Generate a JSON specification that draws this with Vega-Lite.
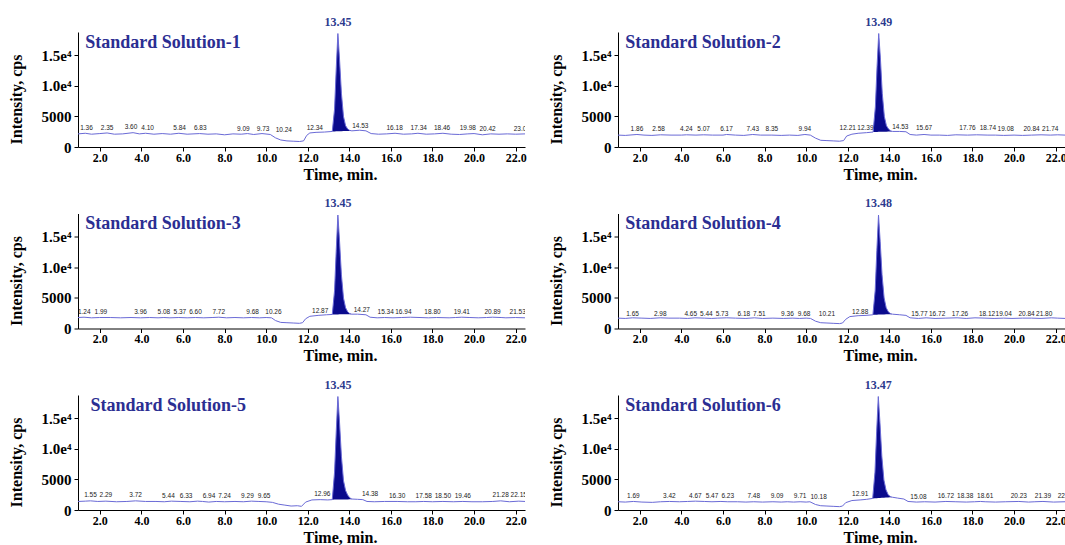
{
"$schema": "https://vega.github.io/schema/vega-lite/v6.json",
"background": "white",
"padding": {"left": 8, "top": 15, "right": 0, "bottom": 0},
"data": {"values": [
{"s":"1","k":"tr","t":0.95,"y":2150},{"s":"1","k":"tr","t":1.3,"y":2250},{"s":"1","k":"tr","t":1.6,"y":2100},{"s":"1","k":"tr","t":2.0,"y":2200},{"s":"1","k":"tr","t":2.35,"y":2300},{"s":"1","k":"tr","t":2.7,"y":2100},{"s":"1","k":"tr","t":3.1,"y":2150},{"s":"1","k":"tr","t":3.6,"y":2350},{"s":"1","k":"tr","t":3.9,"y":2150},{"s":"1","k":"tr","t":4.2,"y":2250},{"s":"1","k":"tr","t":4.6,"y":2100},{"s":"1","k":"tr","t":5.0,"y":2200},{"s":"1","k":"tr","t":5.4,"y":2100},{"s":"1","k":"tr","t":5.8,"y":2250},{"s":"1","k":"tr","t":6.2,"y":2100},{"s":"1","k":"tr","t":6.8,"y":2200},{"s":"1","k":"tr","t":7.2,"y":2100},{"s":"1","k":"tr","t":7.6,"y":2150},{"s":"1","k":"tr","t":8.0,"y":2000},{"s":"1","k":"tr","t":8.4,"y":2150},{"s":"1","k":"tr","t":8.8,"y":2100},{"s":"1","k":"tr","t":9.1,"y":2200},{"s":"1","k":"tr","t":9.4,"y":2050},{"s":"1","k":"tr","t":9.8,"y":2200},{"s":"1","k":"tr","t":10.2,"y":2050},{"s":"1","k":"tr","t":10.45,"y":1500},{"s":"1","k":"tr","t":10.7,"y":1150},{"s":"1","k":"tr","t":11.0,"y":1000},{"s":"1","k":"tr","t":11.3,"y":950},{"s":"1","k":"tr","t":11.6,"y":900},{"s":"1","k":"tr","t":11.8,"y":1000},{"s":"1","k":"tr","t":11.95,"y":1900},{"s":"1","k":"tr","t":12.1,"y":2300},{"s":"1","k":"tr","t":12.4,"y":2400},{"s":"1","k":"tr","t":12.8,"y":2450},
{"s":"1","k":"tr","t":13.18,"y":2550,"b":2550},{"s":"1","k":"tr","t":13.29,"y":6200,"b":2560},{"s":"1","k":"tr","t":13.37,"y":12800,"b":2570},{"s":"1","k":"tr","t":13.45,"y":18600,"b":2580},{"s":"1","k":"tr","t":13.53,"y":14300,"b":2590},{"s":"1","k":"tr","t":13.62,"y":8800,"b":2600},{"s":"1","k":"tr","t":13.72,"y":5000,"b":2610},{"s":"1","k":"tr","t":13.82,"y":3500,"b":2620},{"s":"1","k":"tr","t":13.92,"y":2950,"b":2630},{"s":"1","k":"tr","t":14.02,"y":2720,"b":2640},{"s":"1","k":"tr","t":14.12,"y":2650,"b":2650},
{"s":"1","k":"tr","t":14.5,"y":2750},{"s":"1","k":"tr","t":14.8,"y":2650},{"s":"1","k":"tr","t":15.05,"y":2200},{"s":"1","k":"tr","t":15.4,"y":2100},{"s":"1","k":"tr","t":15.8,"y":2150},{"s":"1","k":"tr","t":16.2,"y":2250},{"s":"1","k":"tr","t":16.6,"y":2100},{"s":"1","k":"tr","t":17.0,"y":2150},{"s":"1","k":"tr","t":17.3,"y":2250},{"s":"1","k":"tr","t":17.7,"y":2100},{"s":"1","k":"tr","t":18.1,"y":2150},{"s":"1","k":"tr","t":18.5,"y":2250},{"s":"1","k":"tr","t":18.9,"y":2100},{"s":"1","k":"tr","t":19.3,"y":2050},{"s":"1","k":"tr","t":19.7,"y":2150},{"s":"1","k":"tr","t":20.0,"y":2200},{"s":"1","k":"tr","t":20.4,"y":2000},{"s":"1","k":"tr","t":20.8,"y":2150},{"s":"1","k":"tr","t":21.2,"y":2100},{"s":"1","k":"tr","t":21.6,"y":2150},{"s":"1","k":"tr","t":22.0,"y":2100},{"s":"1","k":"tr","t":22.45,"y":2150},

{"s":"2","k":"tr","t":0.95,"y":1950},{"s":"2","k":"tr","t":1.3,"y":1900},{"s":"2","k":"tr","t":1.86,"y":2050},{"s":"2","k":"tr","t":2.2,"y":1950},{"s":"2","k":"tr","t":2.58,"y":1900},{"s":"2","k":"tr","t":3.0,"y":2000},{"s":"2","k":"tr","t":3.5,"y":1950},{"s":"2","k":"tr","t":4.0,"y":1950},{"s":"2","k":"tr","t":4.24,"y":2000},{"s":"2","k":"tr","t":4.7,"y":1950},{"s":"2","k":"tr","t":5.07,"y":2000},{"s":"2","k":"tr","t":5.5,"y":1950},{"s":"2","k":"tr","t":6.0,"y":1950},{"s":"2","k":"tr","t":6.17,"y":2050},{"s":"2","k":"tr","t":6.6,"y":1950},{"s":"2","k":"tr","t":7.0,"y":1900},{"s":"2","k":"tr","t":7.43,"y":2050},{"s":"2","k":"tr","t":7.8,"y":1950},{"s":"2","k":"tr","t":8.35,"y":1950},{"s":"2","k":"tr","t":8.8,"y":1900},{"s":"2","k":"tr","t":9.2,"y":1950},{"s":"2","k":"tr","t":9.6,"y":1900},{"s":"2","k":"tr","t":9.94,"y":2050},{"s":"2","k":"tr","t":10.2,"y":1950},{"s":"2","k":"tr","t":10.45,"y":1450},{"s":"2","k":"tr","t":10.7,"y":1100},{"s":"2","k":"tr","t":11.0,"y":1050},{"s":"2","k":"tr","t":11.3,"y":1000},{"s":"2","k":"tr","t":11.6,"y":950},{"s":"2","k":"tr","t":11.8,"y":1050},{"s":"2","k":"tr","t":11.95,"y":1800},{"s":"2","k":"tr","t":12.2,"y":2100},{"s":"2","k":"tr","t":12.5,"y":2250},{"s":"2","k":"tr","t":12.9,"y":2350},
{"s":"2","k":"tr","t":13.22,"y":2450,"b":2450},{"s":"2","k":"tr","t":13.33,"y":6600,"b":2460},{"s":"2","k":"tr","t":13.41,"y":13200,"b":2470},{"s":"2","k":"tr","t":13.49,"y":18600,"b":2480},{"s":"2","k":"tr","t":13.57,"y":14600,"b":2490},{"s":"2","k":"tr","t":13.66,"y":8800,"b":2500},{"s":"2","k":"tr","t":13.76,"y":5000,"b":2510},{"s":"2","k":"tr","t":13.86,"y":3500,"b":2520},{"s":"2","k":"tr","t":13.96,"y":2950,"b":2530},{"s":"2","k":"tr","t":14.06,"y":2650,"b":2540},{"s":"2","k":"tr","t":14.16,"y":2550,"b":2550},
{"s":"2","k":"tr","t":14.5,"y":2550},{"s":"2","k":"tr","t":14.8,"y":2500},{"s":"2","k":"tr","t":15.0,"y":2050},{"s":"2","k":"tr","t":15.3,"y":1950},{"s":"2","k":"tr","t":15.67,"y":2050},{"s":"2","k":"tr","t":16.0,"y":1950},{"s":"2","k":"tr","t":16.4,"y":1950},{"s":"2","k":"tr","t":16.8,"y":1900},{"s":"2","k":"tr","t":17.2,"y":2000},{"s":"2","k":"tr","t":17.76,"y":1950},{"s":"2","k":"tr","t":18.2,"y":2000},{"s":"2","k":"tr","t":18.74,"y":1950},{"s":"2","k":"tr","t":19.1,"y":1950},{"s":"2","k":"tr","t":19.5,"y":1900},{"s":"2","k":"tr","t":20.0,"y":1950},{"s":"2","k":"tr","t":20.4,"y":1900},{"s":"2","k":"tr","t":20.84,"y":1950},{"s":"2","k":"tr","t":21.3,"y":2000},{"s":"2","k":"tr","t":21.74,"y":1950},{"s":"2","k":"tr","t":22.1,"y":2000},{"s":"2","k":"tr","t":22.45,"y":1950},

{"s":"3","k":"tr","t":0.95,"y":1800},{"s":"3","k":"tr","t":1.24,"y":1850},{"s":"3","k":"tr","t":1.6,"y":1750},{"s":"3","k":"tr","t":1.99,"y":1800},{"s":"3","k":"tr","t":2.5,"y":1800},{"s":"3","k":"tr","t":3.0,"y":1750},{"s":"3","k":"tr","t":3.5,"y":1800},{"s":"3","k":"tr","t":3.96,"y":1750},{"s":"3","k":"tr","t":4.4,"y":1800},{"s":"3","k":"tr","t":4.8,"y":1750},{"s":"3","k":"tr","t":5.08,"y":1800},{"s":"3","k":"tr","t":5.37,"y":1750},{"s":"3","k":"tr","t":5.8,"y":1800},{"s":"3","k":"tr","t":6.2,"y":1750},{"s":"3","k":"tr","t":6.6,"y":1800},{"s":"3","k":"tr","t":7.0,"y":1750},{"s":"3","k":"tr","t":7.4,"y":1800},{"s":"3","k":"tr","t":7.72,"y":1850},{"s":"3","k":"tr","t":8.1,"y":1750},{"s":"3","k":"tr","t":8.5,"y":1800},{"s":"3","k":"tr","t":8.9,"y":1750},{"s":"3","k":"tr","t":9.3,"y":1800},{"s":"3","k":"tr","t":9.68,"y":1750},{"s":"3","k":"tr","t":10.0,"y":1800},{"s":"3","k":"tr","t":10.26,"y":1750},{"s":"3","k":"tr","t":10.45,"y":1300},{"s":"3","k":"tr","t":10.7,"y":1000},{"s":"3","k":"tr","t":11.0,"y":950},{"s":"3","k":"tr","t":11.3,"y":900},{"s":"3","k":"tr","t":11.6,"y":850},{"s":"3","k":"tr","t":11.75,"y":950},{"s":"3","k":"tr","t":11.9,"y":1600},{"s":"3","k":"tr","t":12.1,"y":2000},{"s":"3","k":"tr","t":12.5,"y":2150},{"s":"3","k":"tr","t":12.9,"y":2250},
{"s":"3","k":"tr","t":13.18,"y":2300,"b":2300},{"s":"3","k":"tr","t":13.29,"y":6200,"b":2305},{"s":"3","k":"tr","t":13.37,"y":12800,"b":2310},{"s":"3","k":"tr","t":13.45,"y":18600,"b":2315},{"s":"3","k":"tr","t":13.53,"y":14300,"b":2320},{"s":"3","k":"tr","t":13.62,"y":8800,"b":2325},{"s":"3","k":"tr","t":13.72,"y":5000,"b":2330},{"s":"3","k":"tr","t":13.82,"y":3400,"b":2335},{"s":"3","k":"tr","t":13.92,"y":2750,"b":2340},{"s":"3","k":"tr","t":14.02,"y":2450,"b":2345},{"s":"3","k":"tr","t":14.12,"y":2350,"b":2350},
{"s":"3","k":"tr","t":14.4,"y":2350},{"s":"3","k":"tr","t":14.8,"y":2250},{"s":"3","k":"tr","t":15.0,"y":1850},{"s":"3","k":"tr","t":15.34,"y":1750},{"s":"3","k":"tr","t":15.7,"y":1800},{"s":"3","k":"tr","t":16.1,"y":1750},{"s":"3","k":"tr","t":16.5,"y":1800},{"s":"3","k":"tr","t":16.94,"y":1850},{"s":"3","k":"tr","t":17.4,"y":1800},{"s":"3","k":"tr","t":17.8,"y":1750},{"s":"3","k":"tr","t":18.2,"y":1800},{"s":"3","k":"tr","t":18.8,"y":1750},{"s":"3","k":"tr","t":19.1,"y":1800},{"s":"3","k":"tr","t":19.41,"y":1850},{"s":"3","k":"tr","t":19.8,"y":1800},{"s":"3","k":"tr","t":20.2,"y":1750},{"s":"3","k":"tr","t":20.6,"y":1800},{"s":"3","k":"tr","t":20.89,"y":1850},{"s":"3","k":"tr","t":21.3,"y":1800},{"s":"3","k":"tr","t":21.53,"y":1750},{"s":"3","k":"tr","t":22.0,"y":1800},{"s":"3","k":"tr","t":22.45,"y":1750},

{"s":"4","k":"tr","t":0.95,"y":1700},{"s":"4","k":"tr","t":1.3,"y":1650},{"s":"4","k":"tr","t":1.65,"y":1750},{"s":"4","k":"tr","t":2.1,"y":1700},{"s":"4","k":"tr","t":2.5,"y":1650},{"s":"4","k":"tr","t":2.98,"y":1750},{"s":"4","k":"tr","t":3.4,"y":1700},{"s":"4","k":"tr","t":3.9,"y":1700},{"s":"4","k":"tr","t":4.3,"y":1650},{"s":"4","k":"tr","t":4.65,"y":1750},{"s":"4","k":"tr","t":5.1,"y":1700},{"s":"4","k":"tr","t":5.44,"y":1650},{"s":"4","k":"tr","t":5.73,"y":1700},{"s":"4","k":"tr","t":6.18,"y":1750},{"s":"4","k":"tr","t":6.6,"y":1700},{"s":"4","k":"tr","t":7.1,"y":1650},{"s":"4","k":"tr","t":7.51,"y":1750},{"s":"4","k":"tr","t":7.9,"y":1650},{"s":"4","k":"tr","t":8.4,"y":1700},{"s":"4","k":"tr","t":8.9,"y":1650},{"s":"4","k":"tr","t":9.36,"y":1700},{"s":"4","k":"tr","t":9.68,"y":1650},{"s":"4","k":"tr","t":10.0,"y":1700},{"s":"4","k":"tr","t":10.21,"y":1650},{"s":"4","k":"tr","t":10.45,"y":1200},{"s":"4","k":"tr","t":10.7,"y":950},{"s":"4","k":"tr","t":11.0,"y":900},{"s":"4","k":"tr","t":11.3,"y":850},{"s":"4","k":"tr","t":11.6,"y":800},{"s":"4","k":"tr","t":11.75,"y":900},{"s":"4","k":"tr","t":11.9,"y":1500},{"s":"4","k":"tr","t":12.1,"y":1950},{"s":"4","k":"tr","t":12.5,"y":2100},{"s":"4","k":"tr","t":12.88,"y":2150},
{"s":"4","k":"tr","t":13.21,"y":2250,"b":2250},{"s":"4","k":"tr","t":13.32,"y":6200,"b":2260},{"s":"4","k":"tr","t":13.4,"y":12800,"b":2270},{"s":"4","k":"tr","t":13.48,"y":18600,"b":2280},{"s":"4","k":"tr","t":13.56,"y":14300,"b":2290},{"s":"4","k":"tr","t":13.65,"y":8800,"b":2300},{"s":"4","k":"tr","t":13.75,"y":5000,"b":2310},{"s":"4","k":"tr","t":13.85,"y":3400,"b":2320},{"s":"4","k":"tr","t":13.95,"y":2750,"b":2330},{"s":"4","k":"tr","t":14.05,"y":2450,"b":2340},{"s":"4","k":"tr","t":14.15,"y":2350,"b":2350},
{"s":"4","k":"tr","t":14.5,"y":2250},{"s":"4","k":"tr","t":14.8,"y":2150},{"s":"4","k":"tr","t":15.0,"y":1750},{"s":"4","k":"tr","t":15.4,"y":1650},{"s":"4","k":"tr","t":15.77,"y":1750},{"s":"4","k":"tr","t":16.2,"y":1650},{"s":"4","k":"tr","t":16.72,"y":1700},{"s":"4","k":"tr","t":17.26,"y":1750},{"s":"4","k":"tr","t":17.7,"y":1650},{"s":"4","k":"tr","t":18.12,"y":1750},{"s":"4","k":"tr","t":18.6,"y":1700},{"s":"4","k":"tr","t":19.04,"y":1650},{"s":"4","k":"tr","t":19.5,"y":1700},{"s":"4","k":"tr","t":19.9,"y":1650},{"s":"4","k":"tr","t":20.4,"y":1700},{"s":"4","k":"tr","t":20.84,"y":1700},{"s":"4","k":"tr","t":21.3,"y":1650},{"s":"4","k":"tr","t":21.8,"y":1750},{"s":"4","k":"tr","t":22.1,"y":1700},{"s":"4","k":"tr","t":22.45,"y":1650},

{"s":"5","k":"tr","t":0.95,"y":1400},{"s":"5","k":"tr","t":1.3,"y":1450},{"s":"5","k":"tr","t":1.55,"y":1500},{"s":"5","k":"tr","t":1.9,"y":1400},{"s":"5","k":"tr","t":2.29,"y":1450},{"s":"5","k":"tr","t":2.8,"y":1350},{"s":"5","k":"tr","t":3.3,"y":1400},{"s":"5","k":"tr","t":3.72,"y":1500},{"s":"5","k":"tr","t":4.2,"y":1400},{"s":"5","k":"tr","t":4.7,"y":1400},{"s":"5","k":"tr","t":5.1,"y":1350},{"s":"5","k":"tr","t":5.44,"y":1450},{"s":"5","k":"tr","t":5.9,"y":1400},{"s":"5","k":"tr","t":6.33,"y":1350},{"s":"5","k":"tr","t":6.7,"y":1450},{"s":"5","k":"tr","t":6.94,"y":1400},{"s":"5","k":"tr","t":7.24,"y":1300},{"s":"5","k":"tr","t":7.6,"y":1400},{"s":"5","k":"tr","t":8.0,"y":1350},{"s":"5","k":"tr","t":8.5,"y":1400},{"s":"5","k":"tr","t":8.9,"y":1350},{"s":"5","k":"tr","t":9.29,"y":1450},{"s":"5","k":"tr","t":9.65,"y":1400},{"s":"5","k":"tr","t":10.0,"y":1350},{"s":"5","k":"tr","t":10.3,"y":1250},{"s":"5","k":"tr","t":10.6,"y":950},{"s":"5","k":"tr","t":10.9,"y":800},{"s":"5","k":"tr","t":11.2,"y":650},{"s":"5","k":"tr","t":11.5,"y":700},{"s":"5","k":"tr","t":11.7,"y":600},{"s":"5","k":"tr","t":11.9,"y":1300},{"s":"5","k":"tr","t":12.2,"y":1650},{"s":"5","k":"tr","t":12.6,"y":1700},{"s":"5","k":"tr","t":12.96,"y":1650},
{"s":"5","k":"tr","t":13.18,"y":1700,"b":1700},{"s":"5","k":"tr","t":13.29,"y":6200,"b":1705},{"s":"5","k":"tr","t":13.37,"y":12800,"b":1710},{"s":"5","k":"tr","t":13.45,"y":18600,"b":1715},{"s":"5","k":"tr","t":13.53,"y":14300,"b":1720},{"s":"5","k":"tr","t":13.62,"y":8800,"b":1725},{"s":"5","k":"tr","t":13.72,"y":4800,"b":1730},{"s":"5","k":"tr","t":13.82,"y":3200,"b":1735},{"s":"5","k":"tr","t":13.92,"y":2450,"b":1740},{"s":"5","k":"tr","t":14.02,"y":2000,"b":1745},{"s":"5","k":"tr","t":14.12,"y":1800,"b":1750},
{"s":"5","k":"tr","t":14.4,"y":1750},{"s":"5","k":"tr","t":14.65,"y":1700},{"s":"5","k":"tr","t":14.85,"y":1400},{"s":"5","k":"tr","t":15.2,"y":1350},{"s":"5","k":"tr","t":15.7,"y":1400},{"s":"5","k":"tr","t":16.3,"y":1400},{"s":"5","k":"tr","t":16.8,"y":1350},{"s":"5","k":"tr","t":17.2,"y":1350},{"s":"5","k":"tr","t":17.58,"y":1400},{"s":"5","k":"tr","t":18.0,"y":1350},{"s":"5","k":"tr","t":18.5,"y":1400},{"s":"5","k":"tr","t":19.0,"y":1350},{"s":"5","k":"tr","t":19.46,"y":1400},{"s":"5","k":"tr","t":19.9,"y":1350},{"s":"5","k":"tr","t":20.4,"y":1350},{"s":"5","k":"tr","t":20.9,"y":1400},{"s":"5","k":"tr","t":21.28,"y":1500},{"s":"5","k":"tr","t":21.7,"y":1350},{"s":"5","k":"tr","t":22.15,"y":1450},{"s":"5","k":"tr","t":22.45,"y":1400},

{"s":"6","k":"tr","t":0.95,"y":1350},{"s":"6","k":"tr","t":1.3,"y":1300},{"s":"6","k":"tr","t":1.69,"y":1400},{"s":"6","k":"tr","t":2.1,"y":1300},{"s":"6","k":"tr","t":2.6,"y":1250},{"s":"6","k":"tr","t":3.0,"y":1350},{"s":"6","k":"tr","t":3.42,"y":1400},{"s":"6","k":"tr","t":3.9,"y":1350},{"s":"6","k":"tr","t":4.3,"y":1400},{"s":"6","k":"tr","t":4.67,"y":1450},{"s":"6","k":"tr","t":5.1,"y":1400},{"s":"6","k":"tr","t":5.47,"y":1350},{"s":"6","k":"tr","t":5.9,"y":1400},{"s":"6","k":"tr","t":6.23,"y":1350},{"s":"6","k":"tr","t":6.7,"y":1350},{"s":"6","k":"tr","t":7.1,"y":1300},{"s":"6","k":"tr","t":7.48,"y":1350},{"s":"6","k":"tr","t":7.9,"y":1300},{"s":"6","k":"tr","t":8.4,"y":1350},{"s":"6","k":"tr","t":8.8,"y":1300},{"s":"6","k":"tr","t":9.09,"y":1350},{"s":"6","k":"tr","t":9.4,"y":1300},{"s":"6","k":"tr","t":9.71,"y":1350},{"s":"6","k":"tr","t":10.0,"y":1300},{"s":"6","k":"tr","t":10.18,"y":1350},{"s":"6","k":"tr","t":10.45,"y":900},{"s":"6","k":"tr","t":10.7,"y":700},{"s":"6","k":"tr","t":11.0,"y":650},{"s":"6","k":"tr","t":11.3,"y":600},{"s":"6","k":"tr","t":11.6,"y":550},{"s":"6","k":"tr","t":11.75,"y":650},{"s":"6","k":"tr","t":11.9,"y":1200},{"s":"6","k":"tr","t":12.2,"y":1550},{"s":"6","k":"tr","t":12.6,"y":1650},{"s":"6","k":"tr","t":12.91,"y":1750},
{"s":"6","k":"tr","t":13.2,"y":1900,"b":1900},{"s":"6","k":"tr","t":13.31,"y":6200,"b":1920},{"s":"6","k":"tr","t":13.39,"y":12800,"b":1940},{"s":"6","k":"tr","t":13.47,"y":18600,"b":1960},{"s":"6","k":"tr","t":13.55,"y":14300,"b":1980},{"s":"6","k":"tr","t":13.64,"y":8800,"b":2000},{"s":"6","k":"tr","t":13.74,"y":4900,"b":2020},{"s":"6","k":"tr","t":13.84,"y":3300,"b":2040},{"s":"6","k":"tr","t":13.94,"y":2550,"b":2060},{"s":"6","k":"tr","t":14.04,"y":2200,"b":2080},{"s":"6","k":"tr","t":14.14,"y":2100,"b":2100},
{"s":"6","k":"tr","t":14.4,"y":1950},{"s":"6","k":"tr","t":14.7,"y":1800},{"s":"6","k":"tr","t":14.9,"y":1400},{"s":"6","k":"tr","t":15.3,"y":1300},{"s":"6","k":"tr","t":15.7,"y":1350},{"s":"6","k":"tr","t":16.2,"y":1300},{"s":"6","k":"tr","t":16.72,"y":1400},{"s":"6","k":"tr","t":17.2,"y":1350},{"s":"6","k":"tr","t":17.7,"y":1300},{"s":"6","k":"tr","t":18.1,"y":1350},{"s":"6","k":"tr","t":18.38,"y":1400},{"s":"6","k":"tr","t":18.61,"y":1350},{"s":"6","k":"tr","t":19.1,"y":1300},{"s":"6","k":"tr","t":19.6,"y":1350},{"s":"6","k":"tr","t":20.23,"y":1400},{"s":"6","k":"tr","t":20.7,"y":1300},{"s":"6","k":"tr","t":21.0,"y":1350},{"s":"6","k":"tr","t":21.39,"y":1400},{"s":"6","k":"tr","t":21.9,"y":1300},{"s":"6","k":"tr","t":22.45,"y":1350},

{"s":"1","k":"ti","t":1.3,"y":17050,"tx":"Standard Solution-1"},
{"s":"2","k":"ti","t":1.3,"y":17050,"tx":"Standard Solution-2"},
{"s":"3","k":"ti","t":1.3,"y":17050,"tx":"Standard Solution-3"},
{"s":"4","k":"ti","t":1.3,"y":17050,"tx":"Standard Solution-4"},
{"s":"5","k":"ti","t":1.55,"y":17050,"tx":"Standard Solution-5"},
{"s":"6","k":"ti","t":1.3,"y":17050,"tx":"Standard Solution-6"},
{"s":"1","k":"pl","t":13.45,"y":18600,"tx":"13.45"},
{"s":"2","k":"pl","t":13.49,"y":18600,"tx":"13.49"},
{"s":"3","k":"pl","t":13.45,"y":18600,"tx":"13.45"},
{"s":"4","k":"pl","t":13.48,"y":18600,"tx":"13.48"},
{"s":"5","k":"pl","t":13.45,"y":18600,"tx":"13.45"},
{"s":"6","k":"pl","t":13.47,"y":18600,"tx":"13.47"},

{"s":"1","k":"lb","t":1.36,"y":3100,"tx":"1.36"},{"s":"1","k":"lb","t":2.35,"y":3100,"tx":"2.35"},{"s":"1","k":"lb","t":3.5,"y":3200,"tx":"3.60"},{"s":"1","k":"lb","t":4.3,"y":3100,"tx":"4.10"},{"s":"1","k":"lb","t":5.84,"y":3100,"tx":"5.84"},{"s":"1","k":"lb","t":6.83,"y":3100,"tx":"6.83"},{"s":"1","k":"lb","t":8.9,"y":3000,"tx":"9.09"},{"s":"1","k":"lb","t":9.85,"y":3000,"tx":"9.73"},{"s":"1","k":"lb","t":10.85,"y":2800,"tx":"10.24"},{"s":"1","k":"lb","t":12.34,"y":3100,"tx":"12.34"},{"s":"1","k":"lb","t":14.53,"y":3400,"tx":"14.53"},{"s":"1","k":"lb","t":16.18,"y":3050,"tx":"16.18"},{"s":"1","k":"lb","t":17.34,"y":3050,"tx":"17.34"},{"s":"1","k":"lb","t":18.46,"y":3050,"tx":"18.46"},{"s":"1","k":"lb","t":19.7,"y":3050,"tx":"19.98"},{"s":"1","k":"lb","t":20.65,"y":3000,"tx":"20.42"},{"s":"1","k":"lb","t":22.3,"y":3000,"tx":"23.01"},
{"s":"2","k":"lb","t":1.86,"y":3000,"tx":"1.86"},{"s":"2","k":"lb","t":2.9,"y":2900,"tx":"2.58"},{"s":"2","k":"lb","t":4.24,"y":3000,"tx":"4.24"},{"s":"2","k":"lb","t":5.07,"y":3000,"tx":"5.07"},{"s":"2","k":"lb","t":6.17,"y":3000,"tx":"6.17"},{"s":"2","k":"lb","t":7.43,"y":3000,"tx":"7.43"},{"s":"2","k":"lb","t":8.35,"y":2900,"tx":"8.35"},{"s":"2","k":"lb","t":9.94,"y":3000,"tx":"9.94"},{"s":"2","k":"lb","t":12.0,"y":3100,"tx":"12.21"},{"s":"2","k":"lb","t":12.85,"y":3100,"tx":"12.39"},{"s":"2","k":"lb","t":14.53,"y":3300,"tx":"14.53"},{"s":"2","k":"lb","t":15.67,"y":3050,"tx":"15.67"},{"s":"2","k":"lb","t":17.76,"y":3050,"tx":"17.76"},{"s":"2","k":"lb","t":18.74,"y":3050,"tx":"18.74"},{"s":"2","k":"lb","t":19.6,"y":2950,"tx":"19.08"},{"s":"2","k":"lb","t":20.84,"y":3000,"tx":"20.84"},{"s":"2","k":"lb","t":21.74,"y":3000,"tx":"21.74"},
{"s":"3","k":"lb","t":1.25,"y":2700,"tx":"1.24"},{"s":"3","k":"lb","t":2.05,"y":2700,"tx":"1.99"},{"s":"3","k":"lb","t":3.96,"y":2650,"tx":"3.96"},{"s":"3","k":"lb","t":5.08,"y":2700,"tx":"5.08"},{"s":"3","k":"lb","t":5.85,"y":2700,"tx":"5.37"},{"s":"3","k":"lb","t":6.6,"y":2650,"tx":"6.60"},{"s":"3","k":"lb","t":7.72,"y":2700,"tx":"7.72"},{"s":"3","k":"lb","t":9.35,"y":2650,"tx":"9.68"},{"s":"3","k":"lb","t":10.35,"y":2650,"tx":"10.26"},{"s":"3","k":"lb","t":12.6,"y":2850,"tx":"12.87"},{"s":"3","k":"lb","t":14.6,"y":3100,"tx":"14.27"},{"s":"3","k":"lb","t":15.75,"y":2650,"tx":"15.34"},{"s":"3","k":"lb","t":16.6,"y":2650,"tx":"16.94"},{"s":"3","k":"lb","t":18.0,"y":2650,"tx":"18.80"},{"s":"3","k":"lb","t":19.41,"y":2700,"tx":"19.41"},{"s":"3","k":"lb","t":20.89,"y":2700,"tx":"20.89"},{"s":"3","k":"lb","t":22.1,"y":2650,"tx":"21.53"},
{"s":"4","k":"lb","t":1.65,"y":2350,"tx":"1.65"},{"s":"4","k":"lb","t":2.98,"y":2350,"tx":"2.98"},{"s":"4","k":"lb","t":4.45,"y":2350,"tx":"4.65"},{"s":"4","k":"lb","t":5.2,"y":2350,"tx":"5.44"},{"s":"4","k":"lb","t":5.95,"y":2350,"tx":"5.73"},{"s":"4","k":"lb","t":7.0,"y":2350,"tx":"6.18"},{"s":"4","k":"lb","t":7.75,"y":2350,"tx":"7.51"},{"s":"4","k":"lb","t":9.1,"y":2300,"tx":"9.36"},{"s":"4","k":"lb","t":9.9,"y":2300,"tx":"9.68"},{"s":"4","k":"lb","t":11.0,"y":2300,"tx":"10.21"},{"s":"4","k":"lb","t":12.6,"y":2650,"tx":"12.88"},{"s":"4","k":"lb","t":15.45,"y":2300,"tx":"15.77"},{"s":"4","k":"lb","t":16.3,"y":2300,"tx":"16.72"},{"s":"4","k":"lb","t":17.4,"y":2300,"tx":"17.26"},{"s":"4","k":"lb","t":18.7,"y":2300,"tx":"18.12"},{"s":"4","k":"lb","t":19.5,"y":2300,"tx":"19.04"},{"s":"4","k":"lb","t":20.6,"y":2300,"tx":"20.84"},{"s":"4","k":"lb","t":21.45,"y":2300,"tx":"21.80"},
{"s":"5","k":"lb","t":1.55,"y":2400,"tx":"1.55"},{"s":"5","k":"lb","t":2.29,"y":2400,"tx":"2.29"},{"s":"5","k":"lb","t":3.72,"y":2400,"tx":"3.72"},{"s":"5","k":"lb","t":5.3,"y":2350,"tx":"5.44"},{"s":"5","k":"lb","t":6.15,"y":2350,"tx":"6.33"},{"s":"5","k":"lb","t":7.25,"y":2350,"tx":"6.94"},{"s":"5","k":"lb","t":8.0,"y":2350,"tx":"7.24"},{"s":"5","k":"lb","t":9.1,"y":2350,"tx":"9.29"},{"s":"5","k":"lb","t":9.9,"y":2350,"tx":"9.65"},{"s":"5","k":"lb","t":12.7,"y":2600,"tx":"12.96"},{"s":"5","k":"lb","t":15.0,"y":2550,"tx":"14.38"},{"s":"5","k":"lb","t":16.3,"y":2350,"tx":"16.30"},{"s":"5","k":"lb","t":17.58,"y":2350,"tx":"17.58"},{"s":"5","k":"lb","t":18.5,"y":2350,"tx":"18.50"},{"s":"5","k":"lb","t":19.46,"y":2350,"tx":"19.46"},{"s":"5","k":"lb","t":21.28,"y":2400,"tx":"21.28"},{"s":"5","k":"lb","t":22.15,"y":2400,"tx":"22.15"},
{"s":"6","k":"lb","t":1.69,"y":2300,"tx":"1.69"},{"s":"6","k":"lb","t":3.42,"y":2300,"tx":"3.42"},{"s":"6","k":"lb","t":4.67,"y":2300,"tx":"4.67"},{"s":"6","k":"lb","t":5.47,"y":2300,"tx":"5.47"},{"s":"6","k":"lb","t":6.23,"y":2300,"tx":"6.23"},{"s":"6","k":"lb","t":7.48,"y":2300,"tx":"7.48"},{"s":"6","k":"lb","t":8.6,"y":2300,"tx":"9.09"},{"s":"6","k":"lb","t":9.71,"y":2300,"tx":"9.71"},{"s":"6","k":"lb","t":10.6,"y":2200,"tx":"10.18"},{"s":"6","k":"lb","t":12.6,"y":2550,"tx":"12.91"},{"s":"6","k":"lb","t":15.4,"y":2200,"tx":"15.08"},{"s":"6","k":"lb","t":16.72,"y":2300,"tx":"16.72"},{"s":"6","k":"lb","t":17.65,"y":2300,"tx":"18.38"},{"s":"6","k":"lb","t":18.61,"y":2300,"tx":"18.61"},{"s":"6","k":"lb","t":20.23,"y":2300,"tx":"20.23"},{"s":"6","k":"lb","t":21.39,"y":2300,"tx":"21.39"},{"s":"6","k":"lb","t":22.4,"y":2300,"tx":"22.5"}
]},
"facet": {"field": "s", "type": "nominal", "header": {"labelExpr": "''", "labelFontSize": 0.1, "labelPadding": 0, "labelColor": "transparent", "title": null}},
"columns": 2,
"bounds": "flush",
"spacing": {"row": 66.5, "column": 93},
"resolve": {"axis": {"x": "independent", "y": "independent"}},
"spec": {
  "width": 447,
  "height": 115,
  "encoding": {
    "x": {"field": "t", "type": "quantitative", "scale": {"domain": [0.95, 22.45], "nice": false, "zero": false},
      "axis": {"values": [2,4,6,8,10,12,14,16,18,20,22], "format": ".1f", "title": "Time, min.", "labelFontSize": 12, "labelPadding": 1, "titleFontSize": 16, "titlePadding": 3, "titleX": 262, "titleAlign": "center", "labelFlush": false}},
    "y": {"field": "y", "type": "quantitative", "scale": {"domain": [0, 18850], "nice": false},
      "axis": {"values": [0, 5000, 10000, 15000], "format": "d", "labelExpr": "datum.value == 15000 ? '1.5e⁴' : datum.value == 10000 ? '1.0e⁴' : datum.label", "title": "Intensity, cps", "labelFontSize": 15, "labelPadding": 3, "titleFontSize": 16, "titlePadding": 17, "titleY": 67}}
  },
  "layer": [
    {"transform": [{"filter": "isValid(datum.b)"}], "mark": {"type": "area", "color": "#0a0a8c", "clip": true}, "encoding": {"y2": {"field": "b"}}},
    {"transform": [{"filter": "datum.k == 'tr'"}], "mark": {"type": "line", "color": "#6a6ad6", "strokeWidth": 1, "clip": true}, "encoding": {}},
    {"transform": [{"filter": "datum.k == 'lb'"}], "mark": {"type": "text", "font": "Liberation Sans", "fontSize": 6.5, "color": "#222", "baseline": "middle", "clip": true}, "encoding": {"text": {"field": "tx"}}},
    {"transform": [{"filter": "datum.k == 'ti'"}], "mark": {"type": "text", "font": "Liberation Serif", "fontWeight": "bold", "fontSize": 18, "color": "#2b2e92", "align": "left", "baseline": "middle"}, "encoding": {"text": {"field": "tx"}}},
    {"transform": [{"filter": "datum.k == 'pl'"}], "mark": {"type": "text", "font": "Liberation Serif", "fontWeight": "bold", "fontSize": 12, "color": "#2c3a8e", "align": "center", "baseline": "bottom", "dy": -5}, "encoding": {"text": {"field": "tx"}}}
  ]
},
"config": {
  "view": {"stroke": null},
  "font": "Liberation Serif",
  "axis": {"domainColor": "#000", "tickColor": "#000", "labelColor": "#000", "titleColor": "#000", "labelFont": "Liberation Serif", "titleFont": "Liberation Serif", "labelFontWeight": "bold", "titleFontWeight": "bold", "grid": false, "tickSize": 4}
}
}
